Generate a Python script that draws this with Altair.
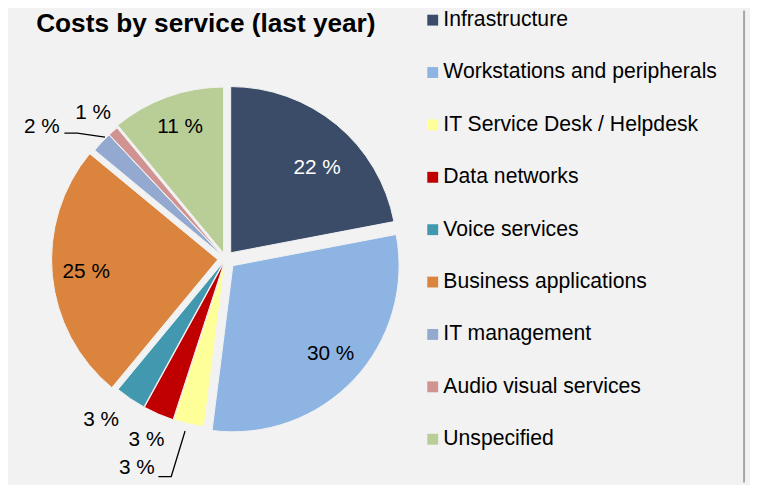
import altair as alt
import pandas as pd
import numpy as np

# ---------------- data ----------------
title_text = "Costs by service (last year)"
services = ["Infrastructure", "Workstations and peripherals", "IT Service Desk / Helpdesk",
            "Data networks", "Voice services", "Business applications", "IT management",
            "Audio visual services", "Unspecified"]
shares = [22, 30, 3, 3, 3, 25, 2, 1, 11]

# ---------------- styles / layout ----------------
colors = ["#3B4C68", "#8EB4E3", "#FFFF99", "#C00000", "#4198AF",
          "#DB843D", "#93A9CF", "#D19392", "#B9CD96"]
label_colors = ["white", "black", "black", "black", "black", "black", "black", "black", "black"]
CX, CY, R = 220, 251, 168           # pie centre / radius (px)
explode = [8, 10, 3, 3, 3, 8, 4, 4, 6]  # slice explosion (px)
label_angle_pct = [12.6, 36.7, 56.4, 56.56, 60.47, 73.5, 84.9, 88.24, 94.7]
label_radius = [130, 143, 229.4, 199.7, 206, 141.6, 228.7, 198.9, 140.7]
leader_group = ["a", "a", "a", "b", "b", "b"]
leader_x = [57, 70, 98, 152, 165, 179]
leader_y = [124, 124, 128, 471, 471, 425]
FONT = "Liberation Sans"
W, H = 750, 477

# ---------------- tables ----------------
vals = np.array(shares, dtype=float)
end = np.cumsum(vals)
start = end - vals
mid = (start + end) / 2 / 100 * 2 * np.pi
df = pd.DataFrame({
    "service": services,
    "share": shares,
    "start": start,
    "end": end,
    "cx": CX + np.array(explode) * np.sin(mid),
    "cy": CY - np.array(explode) * np.cos(mid),
    "label": [f"{s} %" for s in shares],
    "la": label_angle_pct,
    "lr": label_radius,
    "lc": label_colors,
})
leaders = pd.DataFrame({"g": leader_group, "x": leader_x, "y": leader_y,
                        "o": list(range(len(leader_x)))})

theta_scale = alt.Scale(domain=[0, 100], range=[0, 2 * np.pi])
color_scale = alt.Scale(domain=services, range=colors)

pie = alt.Chart(df).mark_arc(outerRadius=R, stroke="#F2F2F2", strokeWidth=1).encode(
    theta=alt.Theta("start:Q", stack=None, scale=theta_scale),
    theta2=alt.Theta2("end:Q"),
    x=alt.X("cx:Q", scale=None, axis=None),
    y=alt.Y("cy:Q", scale=None, axis=None),
    color=alt.Color("service:N", scale=color_scale, sort=services,
                    legend=alt.Legend(orient="none", legendX=418.6, legendY=-1, title=None,
                                      symbolType="square", symbolSize=121, symbolStrokeWidth=0,
                                      labelFont=FONT, labelFontSize=21.4, labelColor="black",
                                      labelOffset=0, labelLimit=400, rowPadding=29.95,
                                      padding=0)),
    order=alt.Order("start:Q"),
)

labels = alt.Chart(df).mark_text(font=FONT, fontSize=21, align="center", baseline="middle").encode(
    theta=alt.Theta("la:Q", stack=None, scale=theta_scale),
    radius=alt.Radius("lr:Q", scale=None),
    x=alt.value(CX),
    y=alt.value(CY),
    text="label:N",
    color=alt.Color("lc:N", scale=None),
)

leader_lines = alt.Chart(leaders).mark_line(color="black", strokeWidth=1.3).encode(
    x=alt.X("x:Q", scale=None, axis=None),
    y=alt.Y("y:Q", scale=None, axis=None),
    detail="g:N",
    order="o:Q",
)

title = alt.Chart(pd.DataFrame({"t": [title_text]})).mark_text(
    font=FONT, fontSize=26.5, fontWeight="bold", align="center", baseline="alphabetic"
).encode(x=alt.value(200), y=alt.value(22), text="t:N")

border = alt.Chart(pd.DataFrame({"a": [0]})).mark_rule(color="#A6A6A6", strokeWidth=2).encode(
    x=alt.value(744), y=alt.value(0), y2=alt.value(H)
)

chart = alt.layer(pie, leader_lines, labels, title, border).properties(
    width=W, height=H,
    autosize=alt.AutoSizeParams(type="none"),
    padding=0,
    background="#F2F2F2",
).configure_view(stroke=None)

chart.save("out.html", embed_options={"renderer": "svg", "actions": False})
